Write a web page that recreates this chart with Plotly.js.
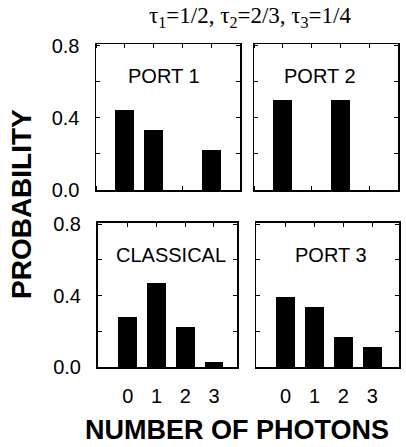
<!DOCTYPE html>
<html>
<head>
<meta charset="utf-8">
<script src="https://cdn.plot.ly/plotly-3.0.1.min.js"></script>
<style>html,body{margin:0;padding:0;background:#fff;}#chart{width:406px;height:447px;}</style>
</head>
<body>
<div id="chart"></div>
<script>
const photons = [0, 1, 2, 3];
const port1 = [0.445, 0.333, 0, 0.222];
const port2 = [0.5, 0, 0.5, 0];
const classical = [0.28, 0.47, 0.225, 0.03];
const port3 = [0.39, 0.334, 0.168, 0.113];
const panelNames = ['PORT 1', 'PORT 2', 'CLASSICAL', 'PORT 3'];
const yTickVals = [0, 0.4, 0.8];
const yTickText = ['0.0', '0.4', '0.8'];
const xTickText = ['0', '1', '2', '3'];

const W = 406, H = 447;
const series = [port1, port2, classical, port3];
const boxes = [
  {l: 96, r: 240, t: 44, b: 190, xr: [-1, 4]},
  {l: 254, r: 398, t: 44, b: 190, xr: [-1, 4]},
  {l: 97.5, r: 237, t: 222.5, b: 367, xr: [-1.05, 3.8]},
  {l: 256, r: 399, t: 222.5, b: 367, xr: [-1.02, 3.92]}
];

const data = series.map((s, i) => ({
  type: 'bar', x: photons, y: s,
  xaxis: 'x' + (i === 0 ? '' : i + 1),
  yaxis: 'y' + (i === 0 ? '' : i + 1),
  width: 0.66,
  marker: {color: '#000', line: {width: 0}},
  hoverinfo: 'none', showlegend: false
}));

const layout = {
  width: W, height: H,
  margin: {l: 0, r: 0, t: 0, b: 0},
  paper_bgcolor: '#fff', plot_bgcolor: '#fff',
  font: {family: 'Liberation Sans, Arial, sans-serif', color: '#000', size: 17},
  bargap: 0,
  annotations: [],
  showlegend: false
};

const tickFont = {size: 20, family: 'Liberation Sans, Arial, sans-serif', color: '#000'};
const tk = {ticks: 'inside', ticklen: 4, tickwidth: 1, tickcolor: '#000', showgrid: false};

boxes.forEach((bx, i) => {
  const sfx = i === 0 ? '' : String(i + 1);
  const leftCol = (i === 0 || i === 2);
  const bottomRow = (i >= 2);
  const xa = {
    domain: [bx.l / W, bx.r / W], anchor: 'y' + sfx,
    range: bx.xr,
    showline: true, linecolor: '#000', linewidth: 1.5, mirror: 'allticks',
    showgrid: false, zeroline: false, fixedrange: true,
    ticklabelstandoff: 10, tickfont: tickFont
  };
  if (bottomRow) {
    Object.assign(xa, tk, {tickvals: photons, ticktext: xTickText});
  } else {
    Object.assign(xa, {tickvals: [], ticks: '', showticklabels: false,
      minor: Object.assign({tick0: 0, dtick: 1}, tk)});
  }
  layout['xaxis' + sfx] = xa;

  const ya = {
    domain: [1 - bx.b / H, 1 - bx.t / H], anchor: 'x' + sfx,
    range: [0, 0.81],
    showline: true, linecolor: '#000', linewidth: 1.5, mirror: 'allticks',
    showgrid: false, zeroline: false, fixedrange: true,
    ticklabelstandoff: 11, tickfont: tickFont
  };
  if (leftCol) {
    Object.assign(ya, tk, {tickvals: yTickVals, ticktext: yTickText,
      minor: Object.assign({tick0: 0, dtick: 0.2}, tk)});
  } else {
    Object.assign(ya, {tickvals: [], ticks: '', showticklabels: false,
      minor: Object.assign({tick0: 0, dtick: 0.2}, tk)});
  }
  layout['yaxis' + sfx] = ya;

  layout.annotations.push({
    text: panelNames[i], xref: 'paper', yref: 'paper',
    x: (bx.l + bx.r) / 2 / W + (i === 0 ? -4 / W : i === 1 ? -6 / W : i === 2 ? 4 / W : 3 / W),
    y: 1 - (bx.t + 32) / H,
    xanchor: 'center', yanchor: 'middle', showarrow: false,
    font: {size: 20, family: 'Liberation Sans, Arial, sans-serif', color: '#000'}
  });
});

layout.annotations.push({
  text: 'τ<sub>1</sub>=1/2, τ<sub>2</sub>=2/3, τ<sub>3</sub>=1/4',
  xref: 'paper', yref: 'paper', x: 250 / W, y: 1 - 17 / H,
  xanchor: 'center', yanchor: 'middle', showarrow: false,
  font: {size: 23, family: 'Liberation Serif, Times New Roman, serif', color: '#000'}
});
layout.annotations.push({
  text: '<b>PROBABILITY</b>', xref: 'paper', yref: 'paper',
  x: 21 / W, y: 1 - 204 / H, textangle: -90,
  xanchor: 'center', yanchor: 'middle', showarrow: false,
  font: {size: 28, family: 'Liberation Sans, Arial, sans-serif', color: '#000'}
});
layout.annotations.push({
  text: '<b>NUMBER OF PHOTONS</b>', xref: 'paper', yref: 'paper',
  x: 237 / W, y: 1 - 430 / H,
  xanchor: 'center', yanchor: 'middle', showarrow: false,
  font: {size: 27, family: 'Liberation Sans, Arial, sans-serif', color: '#000'}
});

Plotly.newPlot('chart', data, layout, {displayModeBar: false, staticPlot: true});
</script>
</body>
</html>
